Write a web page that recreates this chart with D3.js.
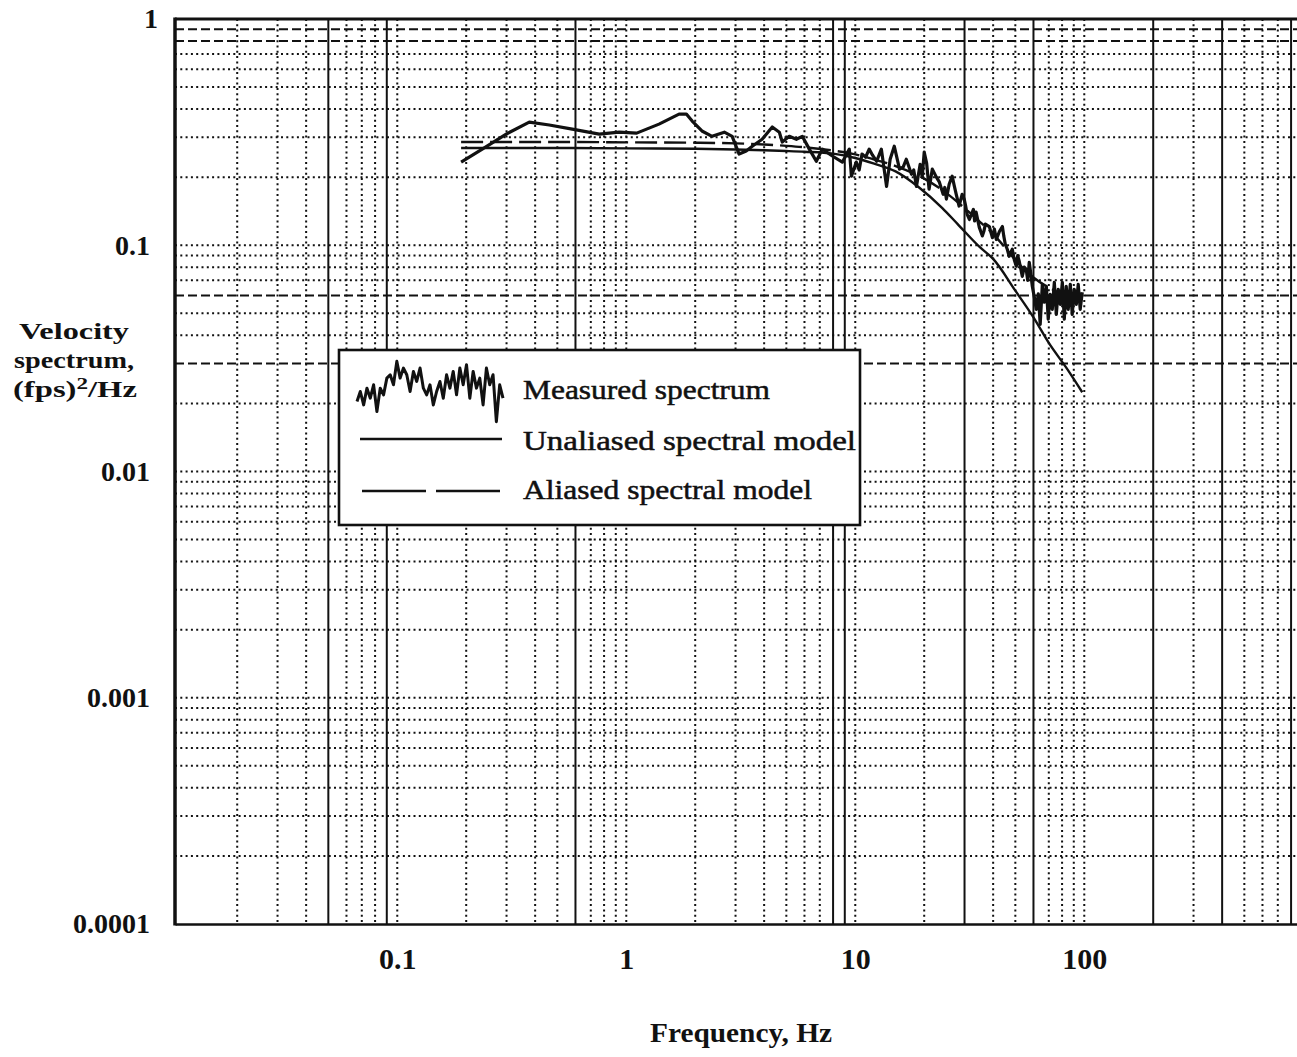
<!DOCTYPE html>
<html>
<head>
<meta charset="utf-8">
<script src="https://cdn.jsdelivr.net/npm/d3@7"></script>
<style>
  body { margin: 0; background: #fff; }
  svg { display: block; }
</style>
</head>
<body>
<svg id="chart" width="1297" height="1057"></svg>
<script>
// ---- Axis ticks -----------------------------------------------------------
const xTickValues = [0.1, 1, 10, 100];
const xTickLabels = ["0.1", "1", "10", "100"];
const yTickValues = [1, 0.1, 0.01, 0.001, 0.0001];
const yTickLabels = ["1", "0.1", "0.01", "0.001", "0.0001"];

// ---- Log-paper grid -------------------------------------------------------
const gridMultipliers = [1, 2, 3, 4, 5, 6, 7, 8, 9];
const xGridDecades = [0.01, 0.1, 1, 10, 100];
const yGridDecades = [0.0001, 0.001, 0.01, 0.1];
const xSolidGrid = [0.05, 0.09, 0.6, 8, 9, 30, 60, 200, 400, 800];
const yDashedGrid = [0.9, 0.8, 0.06, 0.03];

// ---- Series: [frequency Hz, velocity spectrum (fps)^2/Hz] ----------------
const measuredSpectrum = [
  [0.190, 0.233], [0.235, 0.266], [0.299, 0.310], [0.377, 0.350], [0.461, 0.340],
  [0.581, 0.326], [0.762, 0.310], [0.931, 0.316], [1.11, 0.313], [1.39, 0.343],
  [1.70, 0.380], [1.83, 0.380], [1.94, 0.354], [2.15, 0.319], [2.37, 0.303],
  [2.68, 0.316], [2.90, 0.303], [3.11, 0.253], [3.34, 0.261], [3.55, 0.274],
  [3.92, 0.294], [4.34, 0.333], [4.66, 0.316], [4.80, 0.286], [5.15, 0.303],
  [5.53, 0.294], [5.87, 0.303], [6.30, 0.266], [6.76, 0.235], [7.18, 0.266],
  [7.94, 0.248], [8.78, 0.233], [9.42, 0.266], [9.62, 0.202], [10.1, 0.233],
  [10.4, 0.215], [10.7, 0.253], [11.1, 0.245], [11.5, 0.266], [11.9, 0.250],
  [12.4, 0.235], [13.0, 0.266], [13.7, 0.182], [14.2, 0.240], [14.8, 0.274],
  [15.6, 0.217], [16.2, 0.222], [16.7, 0.240], [17.6, 0.206], [18.0, 0.215],
  [18.5, 0.182], [19.2, 0.228], [19.6, 0.200], [20.0, 0.258], [20.5, 0.230],
  [21.0, 0.177], [21.7, 0.217], [22.6, 0.200], [23.3, 0.190], [24.2, 0.168],
  [24.6, 0.180], [25.0, 0.160], [25.7, 0.186], [26.5, 0.202], [27.0, 0.185],
  [27.6, 0.168], [28.4, 0.149], [29.3, 0.168], [29.9, 0.160], [30.3, 0.150],
  [30.8, 0.137], [31.5, 0.130], [32.8, 0.144], [33.2, 0.128], [33.7, 0.140],
  [34.8, 0.120], [35.9, 0.110], [36.5, 0.116], [37.0, 0.124], [38.5, 0.121],
  [39.7, 0.108], [40.5, 0.118], [41.3, 0.106], [42.6, 0.115], [43.9, 0.121],
  [44.5, 0.110], [45.2, 0.101], [46.1, 0.096], [47.0, 0.0894], [48.5, 0.0960],
  [49.5, 0.0860], [50.5, 0.0807], [51.2, 0.0900], [52.0, 0.0850], [53.6, 0.0729],
  [54.7, 0.0800], [55.8, 0.0783], [56.6, 0.0700], [57.5, 0.0841], [58.4, 0.0750],
  [59.3, 0.0659], [60.5, 0.0590], [61.7, 0.0521], [63.0, 0.0610], [64.2, 0.0447],
  [65.6, 0.0672], [66.9, 0.0560], [68.3, 0.0658], [69.6, 0.0471], [71.0, 0.0607],
  [72.5, 0.0521], [74.0, 0.0686], [75.5, 0.0495], [77.0, 0.0639], [78.6, 0.0548],
  [80.2, 0.0686], [81.8, 0.0471], [83.4, 0.0658], [85.1, 0.0521], [86.9, 0.0672],
  [88.6, 0.0495], [90.4, 0.0639], [92.3, 0.0548], [94.1, 0.0672], [96.0, 0.0521],
  [98.0, 0.0620]
];

const unaliasedModel = [
  [0.19, 0.269], [0.5, 0.269], [1, 0.268], [2, 0.267], [3, 0.265], [4, 0.263],
  [5, 0.261], [6, 0.259], [8, 0.254], [10, 0.243], [12, 0.230], [15, 0.212],
  [19, 0.180], [24, 0.146], [28, 0.124], [35, 0.098], [40, 0.087], [50, 0.063],
  [60, 0.048], [70, 0.037], [85, 0.028], [98, 0.0224]
];

const aliasedModel = [
  [0.19, 0.286], [0.5, 0.286], [1, 0.285], [2, 0.284], [3, 0.282], [4, 0.279],
  [5, 0.275], [6, 0.271], [8, 0.262], [10, 0.252], [12, 0.240], [15, 0.224],
  [20, 0.197], [25, 0.170], [30, 0.146], [35, 0.127], [40, 0.112], [45, 0.098],
  [50, 0.086], [60, 0.072], [70, 0.065], [80, 0.061], [90, 0.059], [98, 0.058]
];

// ---- Legend ---------------------------------------------------------------
const legendLabels = ["Measured spectrum", "Unaliased spectral model", "Aliased spectral model"];
const legendLabelWidths = [247, 333, 289];
// jagged sample for the measured-spectrum key (relative heights 0..1)
const legendGlyph = [0.35, 0.5, 0.3, 0.55, 0.4, 0.6, 0.2, 0.55, 0.45, 0.7, 0.75, 0.6, 0.95,
  0.7, 0.85, 0.75, 0.5, 0.8, 0.65, 0.85, 0.55, 0.45, 0.6, 0.3, 0.5, 0.65, 0.4, 0.75,
  0.55, 0.8, 0.45, 0.85, 0.6, 0.9, 0.4, 0.8, 0.55, 0.7, 0.3, 0.85, 0.6, 0.75, 0.05, 0.6, 0.4];

// ---- Layout ---------------------------------------------------------------
const W = 1297, H = 1057;
const plotLeft = 175, plotTop = 19, plotBottom = 924;
const decadeX = 229;
const xMin = 0.0107, xMax = 1100;

const svg = d3.select("#chart");
const ink = "#111";
const serif = "'Liberation Serif', 'Times New Roman', serif";

const x = d3.scaleLog()
  .domain([xMin, xMax])
  .range([plotLeft, plotLeft + decadeX * Math.log10(xMax / xMin)]);
const y = d3.scaleLog()
  .domain([0.0001, 1])
  .range([plotBottom, plotTop]);

svg.append("defs").append("clipPath").attr("id", "plot-clip")
  .append("rect")
  .attr("x", plotLeft).attr("y", plotTop)
  .attr("width", W - plotLeft).attr("height", plotBottom - plotTop);

const same = (a, b) => Math.abs(a - b) / b < 1e-6;

// grid
const gridG = svg.append("g").attr("clip-path", "url(#plot-clip)");
const xGrid = xGridDecades
  .flatMap(d => gridMultipliers.map(m => +(d * m).toPrecision(4)))
  .filter(v => v > xMin && v < xMax);
const yGrid = yGridDecades
  .flatMap(d => gridMultipliers.map(m => +(d * m).toPrecision(4)))
  .filter(v => v > 0.0001 && v < 1);

gridG.selectAll("line.hy").data(yGrid).join("line")
  .attr("class", "hy")
  .attr("x1", plotLeft).attr("x2", W)
  .attr("y1", d => y(d)).attr("y2", d => y(d))
  .attr("stroke", ink)
  .attr("stroke-width", 2)
  .attr("stroke-dasharray", d => yDashedGrid.some(s => same(d, s)) ? "9,4" : "2,3.3");

gridG.selectAll("line.vx").data(xGrid).join("line")
  .attr("class", "vx")
  .attr("x1", d => x(d)).attr("x2", d => x(d))
  .attr("y1", plotTop).attr("y2", plotBottom)
  .attr("stroke", ink)
  .attr("stroke-width", 2)
  .attr("stroke-dasharray", d => xSolidGrid.some(s => same(d, s)) ? null : "2,3.3");

// series
const line = d3.line().x(d => x(d[0])).y(d => y(d[1]));
const curveLine = d3.line().x(d => x(d[0])).y(d => y(d[1])).curve(d3.curveMonotoneX);
const seriesG = svg.append("g").attr("clip-path", "url(#plot-clip)");

seriesG.append("path").datum(unaliasedModel)
  .attr("d", curveLine).attr("fill", "none")
  .attr("stroke", ink).attr("stroke-width", 2.4);

seriesG.append("path").datum(aliasedModel)
  .attr("d", curveLine).attr("fill", "none")
  .attr("stroke", ink).attr("stroke-width", 2.4)
  .attr("stroke-dasharray", "22,7");

seriesG.append("path").datum(measuredSpectrum)
  .attr("d", line).attr("fill", "none")
  .attr("stroke", ink).attr("stroke-width", 3.2)
  .attr("stroke-linejoin", "round");

// frame
svg.append("line").attr("x1", plotLeft).attr("x2", W).attr("y1", plotTop).attr("y2", plotTop)
  .attr("stroke", ink).attr("stroke-width", 3);
svg.append("line").attr("x1", plotLeft).attr("x2", plotLeft).attr("y1", plotTop - 1.5).attr("y2", plotBottom + 1.5)
  .attr("stroke", ink).attr("stroke-width", 3.5);

// axes
const xAxis = svg.append("g")
  .attr("transform", `translate(0,${plotBottom})`)
  .call(d3.axisBottom(x).tickValues(xTickValues)
    .tickFormat((d, i) => xTickLabels[i]).tickSize(0).tickPadding(24));
xAxis.select(".domain").attr("stroke", ink).attr("stroke-width", 2.6);
xAxis.selectAll("text")
  .attr("font-family", serif).attr("font-size", 30).attr("font-weight", "bold")
  .attr("fill", ink);

const yAxis = svg.append("g")
  .attr("transform", `translate(${plotLeft},0)`)
  .call(d3.axisLeft(y).tickValues(yTickValues)
    .tickFormat((d, i) => yTickLabels[i]).tickSize(0).tickPadding(25));
yAxis.select(".domain").remove();
yAxis.selectAll("text")
  .attr("font-family", serif).attr("font-size", 28).attr("font-weight", "bold")
  .attr("fill", ink)
  .attr("dx", d => d === 1 ? 8 : 0);

// axis titles
svg.append("text")
  .attr("x", 741).attr("y", 1042)
  .attr("text-anchor", "middle")
  .attr("font-family", serif).attr("font-size", 27).attr("font-weight", "bold")
  .attr("textLength", 182).attr("lengthAdjust", "spacingAndGlyphs")
  .attr("fill", ink)
  .text("Frequency, Hz");

const yTitle = svg.append("g")
  .attr("font-family", serif).attr("font-size", 24).attr("font-weight", "bold")
  .attr("fill", ink).attr("text-anchor", "middle");
yTitle.append("text").attr("x", 74).attr("y", 339)
  .attr("textLength", 110).attr("lengthAdjust", "spacingAndGlyphs").text("Velocity");
yTitle.append("text").attr("x", 74).attr("y", 368)
  .attr("textLength", 120).attr("lengthAdjust", "spacingAndGlyphs").text("spectrum,");
const unitText = yTitle.append("text").attr("x", 75).attr("y", 397)
  .attr("textLength", 124).attr("lengthAdjust", "spacingAndGlyphs");
unitText.append("tspan").text("(fps)");
unitText.append("tspan").attr("font-size", 17).attr("dy", -8).text("2");
unitText.append("tspan").attr("dy", 8).text("/Hz");

// legend
const legend = svg.append("g");
legend.append("rect")
  .attr("x", 339).attr("y", 350).attr("width", 521).attr("height", 175)
  .attr("fill", "#fff").attr("stroke", ink).attr("stroke-width", 2.6);

const gx = d3.scaleLinear().domain([0, legendGlyph.length - 1]).range([357, 503]);
const gy = d3.scaleLinear().domain([0, 1]).range([425, 358]);
legend.append("path")
  .datum(legendGlyph)
  .attr("d", d3.line().x((d, i) => gx(i)).y(d => gy(d)))
  .attr("fill", "none").attr("stroke", ink).attr("stroke-width", 3)
  .attr("stroke-linejoin", "round");
legend.append("line").attr("x1", 360).attr("x2", 502).attr("y1", 439).attr("y2", 439)
  .attr("stroke", ink).attr("stroke-width", 2.4);
legend.append("line").attr("x1", 362).attr("x2", 500).attr("y1", 491).attr("y2", 491)
  .attr("stroke", ink).attr("stroke-width", 2.6).attr("stroke-dasharray", "64,10");

legend.selectAll("text.lab").data(legendLabels).join("text")
  .attr("class", "lab")
  .attr("x", 523)
  .attr("y", (d, i) => [399, 450, 499][i])
  .attr("font-family", serif).attr("font-size", 27)
  .attr("textLength", (d, i) => legendLabelWidths[i])
  .attr("lengthAdjust", "spacingAndGlyphs")
  .attr("fill", ink).attr("stroke", ink).attr("stroke-width", 0.5)
  .text(d => d);
</script>
</body>
</html>
